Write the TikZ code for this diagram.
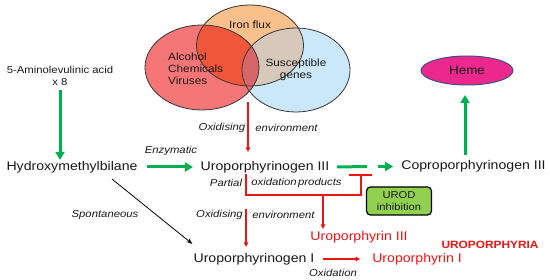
\documentclass[tikz,border=0pt]{standalone}
\usepackage{fontspec}
\setmainfont{Liberation Sans}[FakeStretch=1.12]
\usetikzlibrary{arrows.meta,shapes.geometric}
\definecolor{ggreen}{RGB}{0,176,80}
\definecolor{rred}{RGB}{238,20,20}
\definecolor{vred}{RGB}{244,118,118}
\definecolor{vorange}{RGB}{249,192,140}
\definecolor{vblue}{RGB}{203,231,250}
\definecolor{vro}{RGB}{240,86,58}
\definecolor{vob}{RGB}{214,200,186}
\definecolor{vrb}{RGB}{228,112,122}
\definecolor{vrob}{RGB}{216,102,104}
\definecolor{vline}{RGB}{55,55,55}
\definecolor{hemefill}{RGB}{236,40,140}
\definecolor{hemeline}{RGB}{60,80,140}
\definecolor{urodfill}{RGB}{146,208,80}
\definecolor{txt}{RGB}{25,25,25}
\begin{document}
\begin{tikzpicture}[x=1pt,y=-1pt,
  main/.style={font=\fontsize{12.6}{14}\selectfont, inner sep=1pt, text=txt},
  smalltxt/.style={font=\fontsize{10.1}{12}\selectfont, inner sep=1pt, text=txt},
  lab/.style={font=\fontsize{10.1}{12}\selectfont\itshape, inner sep=1pt, text=txt},
  venntxt/.style={font=\fontsize{10.5}{12}\selectfont, inner sep=1pt, text=txt},
  redtxt/.style={main, text=rred},
  vennshape/.style={ellipse, draw=vline, line width=0.8pt, inner sep=0pt},
  gline/.style={draw=ggreen, line width=3pt},
  garrow/.style={gline, -{Triangle[length=8pt,width=9pt]}},
  rline/.style={draw=rred, line width=1.3pt},
  rarrow/.style={rline, -{Triangle[length=4.5pt,width=4.5pt]}},
  barrow/.style={draw=black, line width=0.8pt, -{Stealth[length=6pt,width=4.5pt]}}
]
\useasboundingbox (0,0) rectangle (550,280);
\fill[white] (0,0) rectangle (550,280);

% Venn diagram: region fills
\def\ellR{(202,67.5) ellipse [x radius=57pt, y radius=42.5pt]}
\def\ellO{(250,45.5) ellipse [x radius=53.5pt, y radius=40.5pt]}
\def\ellB{(296,70) ellipse [x radius=54pt, y radius=42pt]}
\fill[vred] \ellR;
\fill[vorange] \ellO;
\fill[vblue] \ellB;
\begin{scope}\clip \ellR; \fill[vro] \ellO; \end{scope}
\begin{scope}\clip \ellO; \fill[vob] \ellB; \end{scope}
\begin{scope}\clip \ellR; \fill[vrb] \ellB; \end{scope}
\begin{scope}\clip \ellR; \clip \ellO; \fill[vrob] \ellB; \end{scope}
\node[vennshape, minimum width=108pt, minimum height=84pt] (vgenes) at (296,70) {};
\node[vennshape, minimum width=107pt, minimum height=81pt] (viron) at (250,45.5) {};
\node[vennshape, minimum width=114pt, minimum height=85pt] (valc) at (202,67.5) {};
\node[venntxt, anchor=west, align=left] (talc) at (167,68.5) {Alcohol\\Chemicals\\Viruses};
\node[venntxt] (tiron) at (250,25) {Iron flux};
\node[venntxt, align=center] (tgenes) at (296,69.5) {Susceptible\\genes};

% main nodes
\node[smalltxt, align=center] (ala) at (60,76) {5-Aminolevulinic acid\\x 8};
\node[main] (hmb) at (72,167) {Hydroxymethylbilane};
\node[main] (uro3) at (265,167) {Uroporphyrinogen III};
\node[main] (copro) at (473.5,166.5) {Coproporphyrinogen III};
\node[ellipse, draw=hemeline, line width=1pt, fill=hemefill, minimum width=92pt, minimum height=29pt, inner sep=0pt,
      font=\fontsize{12}{14}\selectfont, text=txt] (heme) at (467,70.5) {Heme};
\node[rectangle, rounded corners=4pt, draw=black, line width=1.2pt, fill=urodfill, minimum width=65pt, minimum height=28pt,
      align=center, font=\fontsize{10}{11.5}\selectfont, text=txt, inner sep=1pt] (urod) at (399,201) {UROD\\inhibition};
\node[redtxt] (up3) at (359,237) {Uroporphyrin III};
\node[main] (uro1) at (254,259) {Uroporphyrinogen I};
\node[redtxt] (up1) at (417,259) {Uroporphyrin I};
\node[font=\fontsize{10.6}{12}\selectfont\bfseries, text=rred, inner sep=1pt] (uria) at (490,245) {UROPORPHYRIA};

% labels
\node[lab] (lenz) at (171,151) {Enzymatic};
\node[lab] (lox1a) at (222,128) {Oxidising};
\node[lab] (lox1b) at (286.5,128) {environment};
\node[lab] (lpart) at (226,183) {Partial};
\node[lab] (lprod) at (296.5,183) {oxidation\hspace{1.5pt}products};
\node[lab] (lspon) at (105,215) {Spontaneous};
\node[lab] (lox2a) at (219.5,215) {Oxidising};
\node[lab] (lox2b) at (283.5,215) {environment};
\node[lab] (loxid) at (333,273) {Oxidation};

% coordinates
\coordinate (vbot) at (248,102);
\coordinate (rc1) at (246,195);
\coordinate (rc2) at (361,195);
\coordinate (tbar) at (361,175);
\coordinate (rc3) at (323,195);
\coordinate (ox2top) at (246,209);
\coordinate (g1) at (367,166.5);
\coordinate (g2) at (378,166.5);

% green arrows
\draw[garrow, shorten <=3pt] (ala.south) -- (ala.south |- hmb.north);
\draw[garrow] ([xshift=8.5pt]hmb.east) -- ([xshift=-6.5pt]uro3.west);
\draw[gline] ([xshift=6.5pt]uro3.east) -- (g1);
\draw[garrow] (g2) -- ([xshift=-7pt]copro.west);
\draw[garrow, shorten <=4pt, shorten >=9.5pt] ([xshift=-8.5pt]copro.north) -- ([xshift=-8.5pt]copro.north |- heme.south);

% red connectors
\draw[rarrow, shorten >=8pt] (vbot) -- (vbot |- uro3.north);
\draw[rline] ([xshift=-19pt]uro3.south) -- (rc1) -- (rc2) -- (tbar);
\draw[rline] ([xshift=-12pt]tbar) -- ([xshift=11pt]tbar);
\draw[rarrow, shorten >=1pt] (rc3) -- (rc3 |- up3.north);
\draw[rarrow, shorten >=5pt] (ox2top) -- (ox2top |- uro1.north);
\draw[rarrow] ([xshift=7.5pt]uro1.east) -- ([xshift=-11pt]up1.west);

% black arrow
\draw[barrow] ([xshift=40pt,yshift=-5pt]hmb.south) -- ([yshift=8pt]uro1.north west);
\end{tikzpicture}
\end{document}
